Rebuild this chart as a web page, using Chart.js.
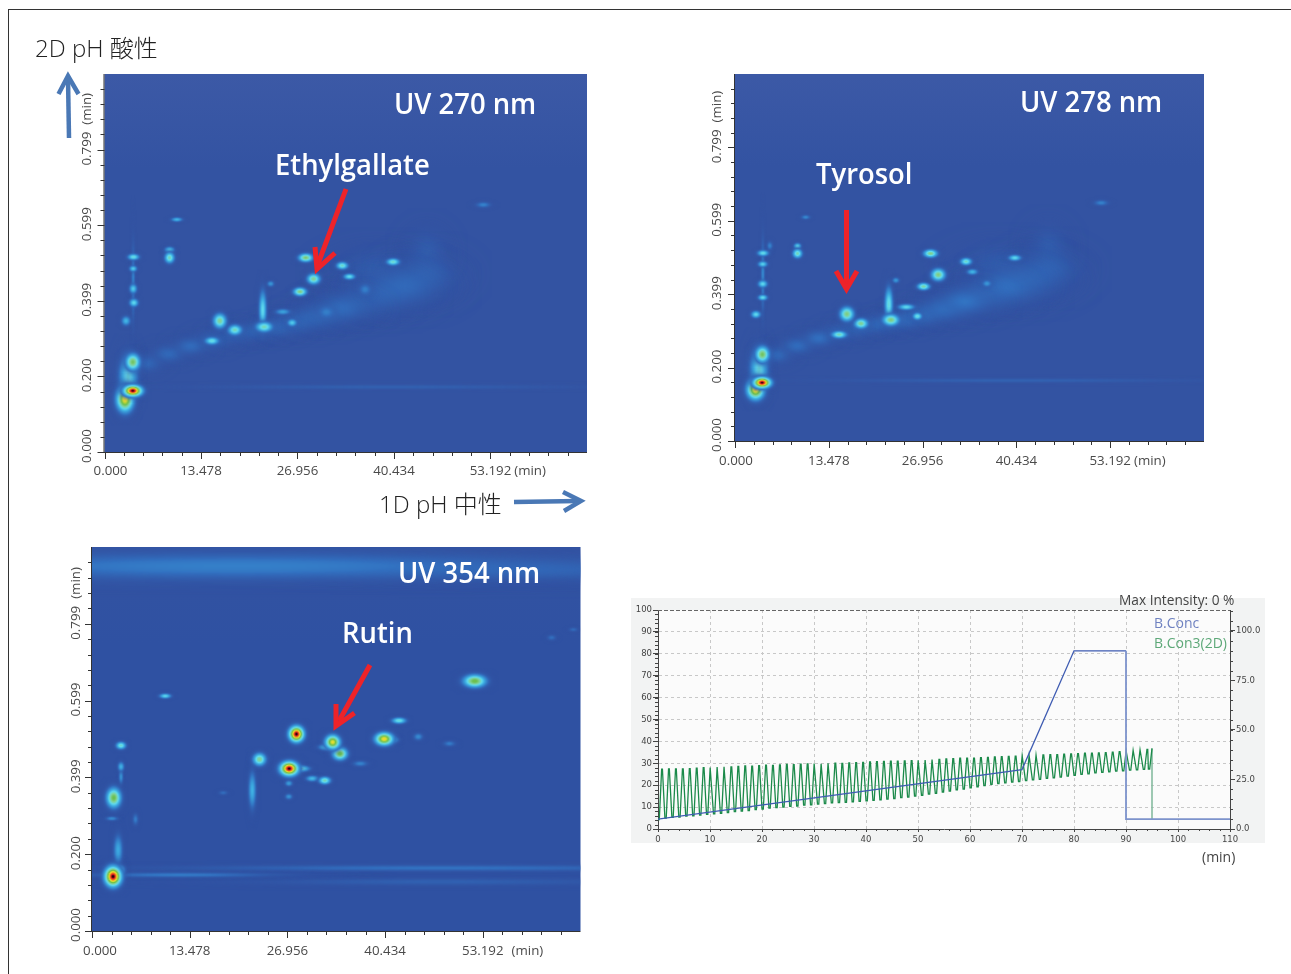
<!DOCTYPE html>
<html>
<head>
<meta charset="utf-8">
<title>2D LC UV maps</title>
<script src="https://cdn.jsdelivr.net/npm/chart.js@4"></script>
<style>
  html, body { margin: 0; background: #fff; }
  body { position: relative; width: 1291px; height: 974px; overflow: hidden; font-family: "Open Sans", sans-serif; }
  canvas { position: absolute; }
  .frame { position: absolute; left: 8px; top: 9px; right: 0; bottom: 0; border-left: 1px solid #333; border-top: 1px solid #333; }
  .t { position: absolute; white-space: nowrap; transform: translateY(-50%); line-height: 1; }
  .uv { color: #fff; font-size: 29px; font-weight: 600; transform-origin: left center; transform: translateY(calc(-50% - 2px)) scaleX(.945); }
  .ax { color: #222; font-size: 24px; font-family: "Open Sans", "Noto Sans CJK JP", sans-serif; font-weight: 300; }
  svg { position: absolute; left: 0; top: 0; }
</style>
</head>
<body>
<div class="frame"></div>
<canvas id="p270" width="530" height="420" style="left:60px;top:64px"></canvas>
<canvas id="p278" width="515" height="410" style="left:695px;top:64px"></canvas>
<canvas id="p354" width="530" height="430" style="left:55px;top:537px"></canvas>
<canvas id="gradient" width="634" height="245" style="left:631px;top:598px"></canvas>

<svg width="1291" height="974" fill="none" stroke-linejoin="miter">
  <g stroke="#ee2329" stroke-width="5">
    <path d="M346 189 L318 264"/><path d="M315 247 L317 269 L335 253"/>
    <path d="M846.5 210 L846.5 284"/><path d="M836 271 L846.5 289 L857 271"/>
    <path d="M370 665 L339 721"/><path d="M336 704 L336 726 L354.500 713"/>
  </g>
  <g stroke="#4a78b5" stroke-width="4.5">
    <path d="M69 138 L68 78"/><path d="M58.500 94 L68 76 L78.500 94"/>
    <path d="M514 502 L578 501"/><path d="M563 492 L581 501 L564 511"/>
  </g>
</svg>

<div class="t ax" style="left:35px;top:48px">2D pH 酸性</div>
<div class="t ax" style="left:379px;top:504px">1D pH 中性</div>
<div class="t uv" style="left:394px;top:104px">UV 270 nm</div>
<div class="t uv" style="left:275px;top:165px">Ethylgallate</div>
<div class="t uv" style="left:1020px;top:102px">UV 278 nm</div>
<div class="t uv" style="left:816px;top:174px">Tyrosol</div>
<div class="t uv" style="left:398px;top:573px">UV 354 nm</div>
<div class="t uv" style="left:342px;top:633px">Rutin</div>
<div class="t" style="left:1119px;top:600px;font-size:13.7px;color:#444">Max Intensity: 0 %</div>
<div class="t" style="left:1154px;top:623px;font-size:14px;color:#6f82c0">B.Conc</div>
<div class="t" style="left:1154px;top:643px;font-size:14px;color:#5da878">B.Con3(2D)</div>
<div class="t" style="left:1202px;top:857px;font-size:14px;color:#444">(min)</div>

<script>
// tick labels shared by the three UV maps
const mapXLabels = ["0.000", "13.478", "26.956", "40.434", "53.192"];
const mapYLabels = ["0.000", "0.200", "0.399", "0.599", "0.799"];

// spots: retention time 1D, retention time 2D, peak level (0-1), spread in each direction
// the last entries of the 270 and 278 lists are the faint ridge behind the spots
const uv270X = [2.86,3.95,3.95,3.3,4.1,4.0,4.0,4.05,3.0,9.08,9.08,10.1,16.1,18.2,15.0,22.3,22.1,24.9,26.2,27.3,28.1,29.2,33.2,34.2,40.3,23.2,52.9,36.4,31,4,40,6,9,12,15,18,21,24,27,30,33,36,39,42,45,45,38];
const uv270Y = [.140,.162,.238,.199,.395,.432,.485,.516,.347,.514,.535,.615,.347,.323,.294,.331,.376,.371,.342,.424,.514,.458,.493,.464,.503,.445,.654,.43,.37,.45,.172,.235,.26,.28,.295,.31,.32,.33,.345,.36,.38,.40,.42,.44,.47,.53,.48];
const uv270Level = [.8,1,.62,.45,.42,.38,.38,.45,.33,.5,.38,.32,.55,.5,.45,.5,.42,.28,.38,.58,.6,.55,.48,.42,.48,.25,.2,.19,.19,.2,.11,.13,.14,.14,.13,.12,.13,.14,.14,.14,.14,.13,.13,.13,.12,.1,.1];
const uv270W = [.65,.7,.55,.7,.35,.3,.3,.45,.35,.38,.38,.45,.5,.55,.55,.65,.3,.6,.38,.5,.55,.5,.45,.45,.5,.3,.6,.5,.7,.16,16,1.2,1.3,1.3,1.4,1.5,1.6,1.7,1.8,2,2.2,2.4,2.6,2.8,2.4,1.5,3];
const uv270H = [.018,.008,.012,.03,.006,.007,.0045,.0045,.007,.008,.0045,.0035,.0105,.0075,.0055,.0075,.028,.0045,.0055,.006,.006,.0075,.0055,.0045,.005,.0045,.0045,.009,.01,.06,.004,.014,.014,.014,.015,.015,.015,.016,.018,.02,.022,.025,.028,.03,.03,.03,.03];

const uv278X = [2.96,3.88,3.93,3.45,3.0,3.98,3.98,3.98,4.03,8.98,8.98,10.15,16.07,18.1,14.95,22.4,22.1,24.6,26.2,27.1,28.1,29.2,33.2,34.1,36.2,40.2,23.1,52.6,5,4,40,6,9,12,15,18,21,24,27,30,33,36,39,42,45,45,38];
const uv278Y = [.141,.159,.236,.195,.345,.391,.428,.482,.512,.511,.531,.61,.346,.32,.29,.33,.372,.365,.34,.421,.511,.453,.489,.461,.429,.499,.438,.649,.532,.45,.165,.235,.26,.28,.295,.31,.32,.33,.345,.36,.38,.40,.42,.44,.47,.53,.48];
const uv278Level = [.82,1,.62,.45,.42,.42,.42,.4,.44,.5,.42,.22,.58,.55,.5,.58,.45,.42,.45,.52,.56,.58,.48,.33,.25,.42,.26,.2,.2,.22,.11,.14,.15,.15,.14,.14,.15,.16,.16,.16,.16,.15,.15,.14,.13,.1,.1];
const uv278W = [.68,.68,.55,.7,.38,.38,.38,.38,.45,.38,.3,.38,.55,.55,.6,.65,.33,.65,.38,.5,.55,.55,.45,.45,.38,.5,.3,.6,.25,.16,16,1.2,1.3,1.3,1.4,1.5,1.6,1.7,1.8,2,2.2,2.4,2.6,2.8,2.4,1.5,3];
const uv278H = [.015,.008,.012,.03,.0055,.0045,.0055,.0045,.0045,.007,.0045,.0035,.0105,.0075,.0055,.0085,.026,.0045,.0055,.0055,.006,.009,.0055,.0045,.0055,.0045,.0045,.0045,.007,.06,.004,.014,.014,.014,.015,.015,.015,.016,.018,.02,.022,.025,.028,.03,.03,.03,.03];

const uv354X = [2.9,28.2,27.2,28.75,33.2,32.4,34.2,40.3,41.3,42.35,52.8,32.1,30.4,23.1,4,3,10.1,4,4,22.1,27.15,27.15,2.75,6,3.6,3.8,45,49.3,37,63.4,66.4,18.1,48,12,20,60,48];
const uv354Y = [.142,.513,.423,.423,.492,.479,.462,.5,.498,.548,.651,.392,.397,.447,.483,.347,.612,.428,.402,.367,.385,.35,.293,.291,.211,.159,.506,.488,.436,.764,.785,.36,.164,.146,.95,.94,.128];
const uv354Level = [1,1,1,.5,.78,.42,.66,.8,.45,.45,.66,.5,.34,.55,.47,.65,.42,.32,.25,.32,.28,.24,.22,.18,.3,.42,.22,.18,.2,.15,.14,.15,.16,.18,.19,.14,.11];
const uv354W = [.62,.56,.68,.65,.56,.6,.56,.68,.5,.55,.85,.45,.5,.5,.38,.55,.45,.25,.18,.3,.3,.3,.5,.25,.35,.42,.38,.5,.6,.38,.38,.38,22,8,28,14,16];
const uv354H = [.014,.011,.01,.0045,.01,.0045,.009,.009,.0045,.0045,.009,.0055,.0045,.009,.0055,.014,.0035,.007,.011,.027,.0045,.0045,.0035,.009,.022,.007,.0055,.0045,.0045,.0045,.0035,.0035,.005,.004,.022,.016,.006];

// gradient programme, lower right chart
const concTime = [0, 70, 80, 90, 90, 110];
const concValue = [5, 30, 90, 90, 5, 5];

const con3Start = [0,1.33,2.67,4,5.33,6.67,8,9.33,10.67,12,13.33,14.67,
  16,17.33,18.67,20,21.33,22.67,24,25.33,26.67,28,29.33,30.67,
  32,33.33,34.67,36,37.33,38.67,40,41.33,42.67,44,45.33,46.67,
  48,49.33,50.67,52,53.33,54.67,56,57.33,58.67,60,61.33,62.67,
  64,65.33,66.67,68,69.33,70.67,72,73.33,74.67,76,77.33,78.67,
  80,81.33,82.67,84,85.33,86.67,88,89.33,90.67,92,93.33,94.3];
const con3Low = [4.3,5.0,5.3,5.4,5.9,6.0,6.3,6.7,6.9,7.2,7.5,7.9,
  8.2,8.4,8.9,9.1,9.5,9.8,10.0,10.3,10.5,10.9,11.0,11.4,
  11.6,11.9,12.0,12.2,12.4,12.6,12.8,13.1,13.3,13.6,13.9,14.3,
  14.6,15.0,15.4,15.9,16.3,16.9,17.3,17.9,18.2,18.8,19.3,19.8,
  20.4,20.7,21.1,21.4,21.7,22.1,22.4,22.7,23.1,23.4,23.7,24.1,
  24.5,24.9,25.2,25.6,25.9,26.1,26.4,26.6,26.9,27.0,27.2,27.4];
const con3High = [27.3,27.4,27.5,27.4,27.6,27.8,28.0,28.1,28.3,28.4,28.3,28.6,
  28.8,28.7,28.9,29.1,29.0,29.3,29.5,29.4,29.6,29.7,29.9,29.8,
  30.0,30.1,30.0,30.2,30.3,30.4,30.6,30.8,30.9,31.0,31.0,31.1,
  31.2,31.4,31.5,31.7,31.8,32.0,32.1,32.3,32.4,32.4,32.6,32.7,
  32.9,33.0,33.2,33.3,33.4,33.5,33.7,33.8,33.9,34.0,34.2,34.3,
  34.4,34.6,34.6,34.8,34.9,35.1,35.3,35.6,35.9,36.1,36.4,36.8];
const con3DropTime = [95, 95];
const con3DropValue = [36.8, 4.5];

// jet style ramp used by the maps
const ramp = [
  [0, 51, 83, 163], [.15, 50, 112, 192], [.3, 60, 170, 225], [.42, 96, 218, 238],
  [.55, 130, 210, 150], [.65, 105, 190, 75], [.78, 238, 226, 45], [.88, 240, 120, 30],
  [.95, 222, 22, 30], [1, 20, 0, 10]
];

function rampColor(v) {
  for (let i = 1; i < ramp.length; i++) {
    if (v <= ramp[i][0]) {
      const a = ramp[i - 1], b = ramp[i], f = (v - a[0]) / (b[0] - a[0]);
      return [a[1] + (b[1] - a[1]) * f, a[2] + (b[2] - a[2]) * f, a[3] + (b[3] - a[3]) * f];
    }
  }
  return ramp[ramp.length - 1].slice(1);
}

const spriteCache = {};

function spotSprite(wPx, hPx, level) {
  const key = [wPx.toFixed(1), hPx.toFixed(1), level].join("_");
  if (spriteCache[key]) return spriteCache[key];
  const halfW = Math.ceil(wPx * 3), halfH = Math.ceil(hPx * 3);
  const c = document.createElement("canvas");
  c.width = halfW * 2 + 1;
  c.height = halfH * 2 + 1;
  const g = c.getContext("2d");
  const img = g.createImageData(c.width, c.height);
  for (let j = 0; j < c.height; j++) {
    for (let i = 0; i < c.width; i++) {
      const dx = (i - halfW) / wPx, dy = (j - halfH) / hPx;
      const v = level * Math.exp(-(dx * dx + dy * dy) / 2);
      const col = rampColor(v);
      const k = (j * c.width + i) * 4;
      img.data[k] = col[0];
      img.data[k + 1] = col[1];
      img.data[k + 2] = col[2];
      img.data[k + 3] = Math.min(1, v / .16) * 255;
    }
  }
  g.putImageData(img, 0, 0);
  spriteCache[key] = c;
  return c;
}

// background of a map and its axes
const mapPlugin = {
  id: "mapAxes",
  beforeDatasetsDraw(chart, args, opts) {
    const a = chart.chartArea, ctx = chart.ctx;
    const fill = ctx.createLinearGradient(0, a.top, 0, a.bottom);
    fill.addColorStop(0, opts.topColor);
    fill.addColorStop(.25, opts.baseColor);
    fill.addColorStop(1, opts.baseColor);
    ctx.fillStyle = fill;
    ctx.fillRect(a.left, a.top, a.right - a.left, a.bottom - a.top);
  },
  afterDraw(chart, args, opts) {
    const a = chart.chartArea, ctx = chart.ctx;
    const xs = chart.scales.x, ys = chart.scales.y;
    ctx.save();
    ctx.strokeStyle = "#333";
    ctx.lineWidth = 1;
    ctx.beginPath();
    ctx.moveTo(a.left - .5, a.top);
    ctx.lineTo(a.left - .5, a.bottom + .5);
    ctx.lineTo(a.right, a.bottom + .5);
    xs.ticks.slice(0, -1).forEach((t, i) => {
      const px = Math.round(xs.getPixelForTick(i)) + .5;
      ctx.moveTo(px, a.bottom);
      ctx.lineTo(px, a.bottom + (i % 5 === 0 ? 7 : 4));
    });
    ys.ticks.slice(0, -1).forEach((t, i) => {
      const py = Math.round(ys.getPixelForTick(i)) + .5;
      ctx.moveTo(a.left, py);
      ctx.lineTo(a.left - (i % 5 === 0 ? 7 : 4), py);
    });
    ctx.stroke();

    ctx.fillStyle = "#4a4a4a";
    ctx.font = "13.3px 'Open Sans'";
    ctx.textBaseline = "middle";
    ctx.textAlign = "center";
    const labelY = a.bottom + opts.xGap;
    mapXLabels.forEach((s, i) => {
      const px = xs.getPixelForTick(i * 5) + (i === 0 ? opts.zeroShift : 0);
      ctx.fillText(s, px, labelY);
      if (i === mapXLabels.length - 1) {
        ctx.textAlign = "left";
        ctx.fillText("(min)", px + ctx.measureText(s).width / 2 + opts.minGap, labelY);
        ctx.textAlign = "center";
      }
    });
    const labelX = a.left - opts.yGap;
    mapYLabels.forEach((s, i) => {
      const py = ys.getPixelForTick(i * 5) - (i === 0 ? 6 : 1);
      ctx.save();
      ctx.translate(labelX, py);
      ctx.rotate(-Math.PI / 2);
      ctx.fillText(s, 0, 0);
      if (i === mapYLabels.length - 1) {
        ctx.textAlign = "left";
        ctx.fillText("(min)", ctx.measureText(s).width / 2 + 7, 0);
      }
      ctx.restore();
    });
    ctx.restore();
  }
};

const spotBlur = 1.25;

function makeMap(id, xVals, yVals, levels, widths, heights, pad, look) {
  const spots = xVals.map((x, i) => ({ x: x, y: yVals[i], level: levels[i], w: widths[i], h: heights[i] }));
  spots.sort((p, q) => p.level - q.level);
  new Chart(document.getElementById(id), {
    type: "scatter",
    plugins: [mapPlugin],
    data: {
      datasets: [{
        data: spots,
        pointRadius: 2,
        pointStyle: ctx => {
          if (!ctx.raw) return "circle";
          const sc = ctx.chart.scales;
          const wPx = Math.abs(sc.x.getPixelForValue(ctx.raw.w) - sc.x.getPixelForValue(0)) * spotBlur;
          const hPx = Math.abs(sc.y.getPixelForValue(ctx.raw.h) - sc.y.getPixelForValue(0)) * spotBlur;
          // scales have no size yet on the first pass
          if (!(wPx > 0) || !(hPx > 0)) return "circle";
          return spotSprite(wPx, hPx, ctx.raw.level);
        }
      }]
    },
    options: {
      responsive: false,
      animation: false,
      layout: { padding: pad, autoPadding: false },
      plugins: { legend: { display: false }, tooltip: { enabled: false }, mapAxes: look },
      scales: {
        x: {
          type: "linear", min: 0, max: 67.39,
          ticks: { display: false, stepSize: 2.6956 },
          grid: { display: false, drawTicks: false }, border: { display: false }
        },
        y: {
          type: "linear", min: 0, max: 1,
          ticks: { display: false, stepSize: .04 },
          grid: { display: false, drawTicks: false }, border: { display: false }
        }
      }
    }
  });
}

makeMap("p270", uv270X, uv270Y, uv270Level, uv270W, uv270H,
  { left: 44.5, top: 10, right: 3, bottom: 32 },
  { topColor: "#3c59a6", baseColor: "#3353a2", xGap: 19, yGap: 17, minGap: 3, zeroShift: 6 });
makeMap("p278", uv278X, uv278Y, uv278Level, uv278W, uv278H,
  { left: 40, top: 10, right: 6, bottom: 33 },
  { topColor: "#3c59a6", baseColor: "#3353a2", xGap: 20, yGap: 18, minGap: 3, zeroShift: 1 });
makeMap("p354", uv354X, uv354Y, uv354Level, uv354W, uv354H,
  { left: 37, top: 10, right: 4.5, bottom: 36 },
  { topColor: "#3353a2", baseColor: "#2f51a2", xGap: 20, yGap: 16, minGap: 8, zeroShift: 8 });

// gradient chart
const concPoints = concTime.map((t, i) => ({ x: t, y: concValue[i] }));
const con3Points = [];
con3Start.forEach((t, i) => {
  con3Points.push({ x: t, y: con3Low[i] });
  con3Points.push({ x: t + .25, y: con3Low[i] });
  con3Points.push({ x: t + .7, y: con3High[i] });
  con3Points.push({ x: t + .85, y: con3High[i] });
});
const dropPoints = con3DropTime.map((t, i) => ({ x: t, y: con3DropValue[i] }));

const minorTicks = {
  id: "minorTicks",
  beforeDraw(chart) {
    const a = chart.chartArea, ctx = chart.ctx;
    ctx.save();
    ctx.fillStyle = "#f2f3f3";
    ctx.fillRect(0, 0, chart.width, chart.height);
    ctx.fillStyle = "#fbfbfb";
    ctx.fillRect(a.left, a.top, a.right - a.left, a.bottom - a.top);
    ctx.restore();
  },
  afterDraw(chart) {
    const a = chart.chartArea, ctx = chart.ctx;
    const sc = chart.scales;
    ctx.save();
    ctx.strokeStyle = "#444";
    ctx.lineWidth = 1;
    ctx.beginPath();
    for (let v = 0; v <= 110; v += 2) {
      const px = Math.round(sc.x.getPixelForValue(v)) + .5;
      ctx.moveTo(px, a.bottom);
      ctx.lineTo(px, a.bottom + 2);
    }
    for (let v = 0; v <= 100; v += 2) {
      const py = Math.round(sc.y.getPixelForValue(v)) + .5;
      ctx.moveTo(a.left, py);
      ctx.lineTo(a.left - 3, py);
    }
    for (let v = 0; v <= 110; v += 5) {
      const py = Math.round(sc.y1.getPixelForValue(v)) + .5;
      ctx.moveTo(a.right, py);
      ctx.lineTo(a.right + 3, py);
    }
    ctx.stroke();
    ctx.setLineDash([4, 2]);
    ctx.strokeStyle = "#666";
    ctx.beginPath();
    ctx.moveTo(a.left, a.top + .5);
    ctx.lineTo(a.right, a.top + .5);
    ctx.stroke();
    ctx.restore();
  }
};

const tickFont = { family: "DejaVu Sans", size: 8.5 };

new Chart(document.getElementById("gradient"), {
  type: "scatter",
  plugins: [minorTicks],
  data: {
    datasets: [
      {
        label: "B.Conc", data: concPoints, yAxisID: "y1", showLine: true, pointRadius: 0,
        borderColor: "#3f5cb2", borderWidth: 1.3, order: 1,
        // the drop at 90 min and the re-equilibration are paler in the original
        segment: {
          borderColor: c => c.p0.parsed.x >= 90 ? "#7d93cc" : undefined,
          borderWidth: c => c.p0.parsed.x >= 90 ? 1.8 : undefined
        }
      },
      { label: "B.Con3(2D)", data: con3Points, yAxisID: "y", showLine: true, pointRadius: 0, borderColor: "#1b8a4a", borderWidth: 1.3, order: 2 },
      { label: "end", data: dropPoints, yAxisID: "y", showLine: true, pointRadius: 0, borderColor: "#7fb89a", borderWidth: 1.5, order: 3 }
    ]
  },
  options: {
    responsive: false,
    animation: false,
    layout: { padding: { top: 12 }, autoPadding: false },
    plugins: { legend: { display: false }, tooltip: { enabled: false } },
    scales: {
      x: {
        type: "linear", min: 0, max: 110,
        afterFit: s => { s.height = 14; },
        ticks: { stepSize: 10, font: tickFont, color: "#444", padding: 3, maxRotation: 0 },
        grid: { color: "#c8c8c8", tickColor: "#444", tickLength: 3 },
        border: { color: "#444", dash: [3, 3] }
      },
      y: {
        type: "linear", min: 0, max: 100,
        afterFit: s => { s.width = 27; },
        ticks: { stepSize: 10, font: tickFont, color: "#444", padding: 1 },
        grid: { color: "#c8c8c8", tickColor: "#444", tickLength: 5 },
        border: { color: "#444", dash: [3, 3] }
      },
      y1: {
        type: "linear", min: 0, max: 110.6, position: "right",
        afterFit: s => { s.width = 35; },
        ticks: { stepSize: 25, includeBounds: false, font: tickFont, color: "#444", padding: 1, callback: v => v.toFixed(1) },
        grid: { drawOnChartArea: false, tickColor: "#444", tickLength: 5 },
        border: { color: "#444" }
      }
    }
  }
});
</script>
</body>
</html>
